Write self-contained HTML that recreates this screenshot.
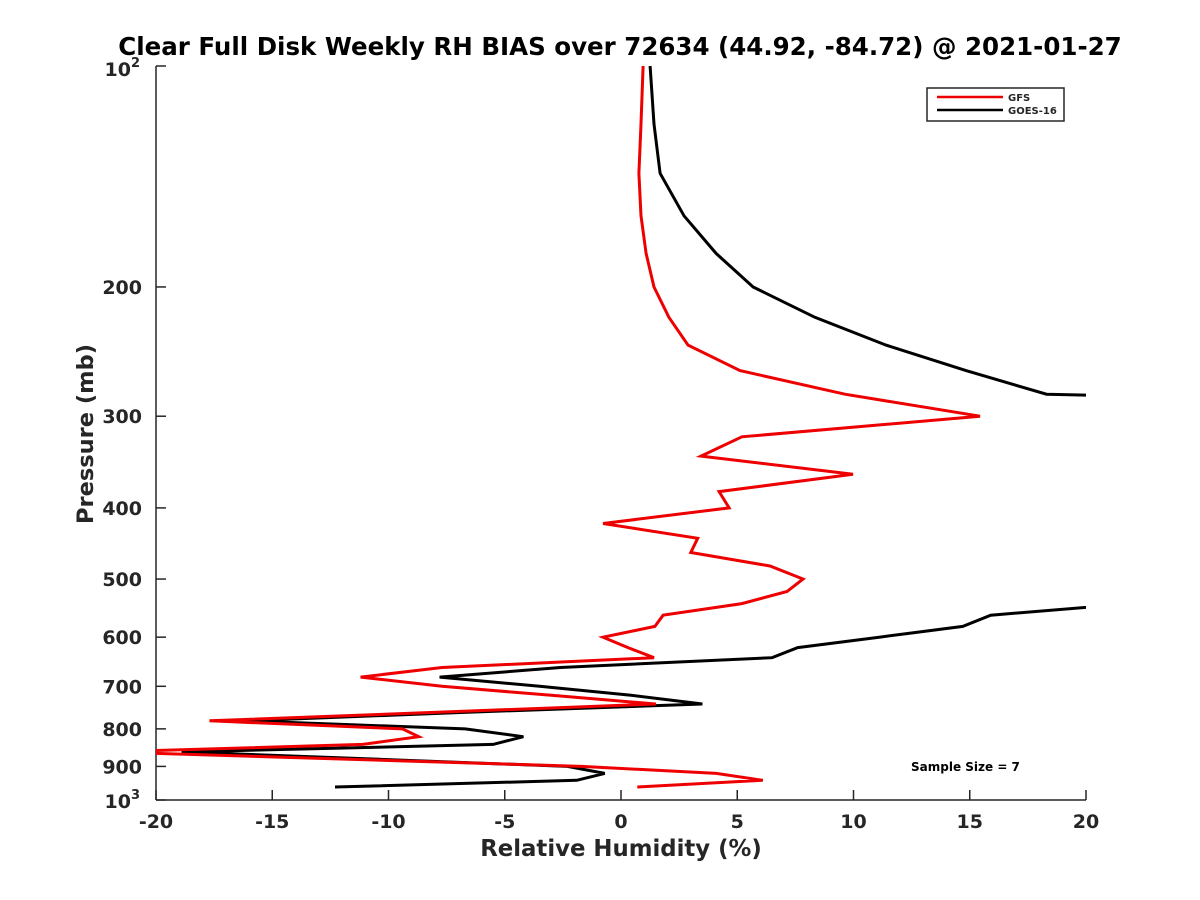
<!DOCTYPE html>
<html><head><meta charset="utf-8"><style>
body{margin:0;background:#fff;}
svg{display:block;font-family:"DejaVu Sans","Liberation Sans",sans-serif;font-weight:bold;}
</style></head><body>
<svg id="chart" width="1200" height="900" viewBox="0 0 1200 900">
<defs><clipPath id="plotclip"><rect x="156" y="66" width="930" height="734"/></clipPath></defs>
<rect width="1200" height="900" fill="#fff"/>
<text x="620" y="55" text-anchor="middle" font-size="24.5" fill="#000">Clear Full Disk Weekly RH BIAS over 72634 (44.92, -84.72) @ 2021-01-27</text>
<g id="axes"></g>
<g id="series" clip-path="url(#plotclip)"></g>
<g>
<rect x="927" y="88" width="137" height="33" fill="#fff" stroke="#262626" stroke-width="1.5"/>
<line x1="937" y1="97" x2="1003" y2="97" stroke="#e00" stroke-width="2.5"/>
<text x="1008" y="101" font-size="10" fill="#262626">GFS</text>
<line x1="937" y1="110" x2="1003" y2="110" stroke="#000" stroke-width="2.5"/>
<text x="1008" y="114" font-size="10" fill="#262626">GOES-16</text>
</g>
<text x="911" y="771" font-size="12" fill="#000">Sample Size = 7</text>
<text x="621" y="856" text-anchor="middle" font-size="22.8" fill="#262626">Relative Humidity (%)</text>
<text transform="translate(93,434) rotate(-90)" text-anchor="middle" font-size="22.5" fill="#262626">Pressure (mb)</text>
</svg>
<script>
const pressureLevels=[100,120,140,160,180,200,220,240,260,280,300,320,340,360,380,400,420,440,460,480,500,520,540,560,580,600,620,640,660,680,700,720,740,760,780,800,820,840,860,880,900,920,940,960];
const gfsBias=[0.95,0.86,0.77,0.86,1.08,1.42,2.06,2.88,5.12,9.63,15.44,5.2,3.44,9.98,4.22,4.65,-0.77,3.3,3.0,6.41,7.83,7.14,5.2,1.81,1.46,-0.77,0.3,1.42,-7.7,-11.2,-7.7,-3.0,1.5,-8.2,-17.7,-9.4,-8.7,-11.1,-22,-11.7,-1.7,4.1,6.1,0.7];
const goesBias=[1.25,1.42,1.68,2.71,4.09,5.68,8.34,11.4,14.84,18.3,60,60,60,60,60,60,60,60,60,60,60,60,22,15.9,14.7,11.1,7.6,6.5,-2.6,-7.8,-3.5,0.43,3.5,-6.9,-16.1,-6.7,-4.2,-5.5,-18.9,-10.4,-2.3,-0.7,-1.9,-12.3];
const xTicks=[-20,-15,-10,-5,0,5,10,15,20];
const yTicks=[100,200,300,400,500,600,700,800,900,1000];
const L=156,R=1086,T=66,B=800;
const xs=v=>L+(v+20)/40*(R-L);
const ys=p=>T+(Math.log10(p)-2)*(B-T);
const NS='http://www.w3.org/2000/svg';
const axes=document.getElementById('axes'),series=document.getElementById('series');
function mk(tag,attrs,parent){const e=document.createElementNS(NS,tag);for(const k in attrs)e.setAttribute(k,attrs[k]);parent.appendChild(e);return e;}
let e=mk('line',{x1:L,y1:T,x2:L,y2:B,stroke:'#262626','stroke-width':1.5},axes);


e=mk('line',{x1:L,y1:B,x2:R,y2:B,stroke:'#262626','stroke-width':1.5},axes);


xTicks.forEach(v=>{const x=xs(v);
 const t=mk('line',{x1:x,y1:B,x2:x,y2:B-10,stroke:'#262626','stroke-width':1.5},axes);
 
 
 const l=mk('text',{x:x,y:B+28,'text-anchor':'middle','font-size':19,fill:'#262626'},axes);l.textContent=String(v);
 
 
});
yTicks.forEach(p=>{const y=ys(p);
 const t=mk('line',{x1:L,y1:y,x2:L+10,y2:y,stroke:'#262626','stroke-width':1.5},axes);
 
 
 const l=mk('text',{x:L-14,y:y+7,'text-anchor':'end','font-size':19,fill:'#262626'},axes);
 if(p===100||p===1000){l.setAttribute('x',L-16);l.setAttribute('y',y+(p===100?10:8));
  l.textContent='10';const s=mk('tspan',{dy:-9,'font-size':13},l);s.textContent=p===100?'2':'3';}
 else l.textContent=p;
 
 
});
function draw(vals,color,name){
 const pts=vals.map((v,i)=>xs(v).toFixed(1)+','+ys(pressureLevels[i]).toFixed(1)).join(' ');
 const pl=mk('polyline',{points:pts,fill:'none',stroke:color,'stroke-width':3,'stroke-linejoin':'miter'},series);
 
 
}
draw(goesBias,'#000','goes16-line');
draw(gfsBias,'#e00','gfs-line');
</script>
</body></html>
